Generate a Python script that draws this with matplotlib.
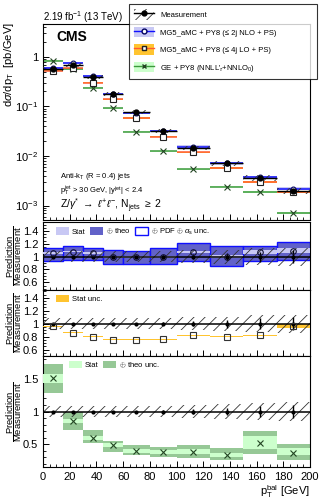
import numpy as np
import matplotlib.pyplot as plt
from matplotlib.patches import Patch
from matplotlib.lines import Line2D
from matplotlib.ticker import MultipleLocator, FixedLocator, FixedFormatter, NullFormatter

plt.rcParams['font.family'] = ['Liberation Sans', 'DejaVu Sans']
plt.rcParams['mathtext.fontset'] = 'custom'
plt.rcParams['mathtext.rm'] = 'Liberation Sans'
plt.rcParams['mathtext.it'] = 'Liberation Sans:italic'
plt.rcParams['mathtext.bf'] = 'Liberation Sans:bold'
plt.rcParams['hatch.linewidth'] = 0.6
plt.rcParams['xtick.direction'] = 'in'
plt.rcParams['ytick.direction'] = 'in'

# bins of pT^bal [GeV]
edges = [0, 15, 30, 45, 60, 80, 100, 125, 150, 175, 200]

# measurement [pb/GeV] and relative uncertainties
meas = [0.56, 0.69, 0.39, 0.18, 0.076, 0.032, 0.0144, 0.0071, 0.0036, 0.0020]
meas_stat = [0.005, 0.005, 0.008, 0.01, 0.015, 0.02, 0.04, 0.06, 0.08, 0.10]
meas_tot = [0.09, 0.09, 0.09, 0.09, 0.09, 0.09, 0.10, 0.11, 0.13, 0.14]

# predictions [pb/GeV]
nlo = [0.59, 0.75, 0.41, 0.18, 0.075, 0.032, 0.0154, 0.0071, 0.0038, 0.0022]
lo = [0.53, 0.59, 0.30, 0.14, 0.058, 0.0245, 0.0118, 0.0057, 0.0030, 0.0019]
ge = [0.84, 0.57, 0.24, 0.091, 0.031, 0.0123, 0.0054, 0.0024, 0.0019, 0.0007]
nlo_band = [0.04, 0.04, 0.04, 0.05, 0.05, 0.05, 0.06, 0.06, 0.06, 0.06]
lo_band = [0.03, 0.03, 0.03, 0.03, 0.03, 0.03, 0.03, 0.03, 0.03, 0.04]
ge_band = [0.03, 0.03, 0.03, 0.03, 0.03, 0.03, 0.03, 0.03, 0.04, 0.05]

# ratio prediction / measurement
nlo_ratio = [1.06, 1.08, 1.06, 1.00, 0.99, 0.99, 1.07, 1.00, 1.07, 1.09]
nlo_theo_lo = [0.93, 0.95, 0.95, 0.89, 0.88, 0.88, 0.93, 0.85, 0.93, 0.95]
nlo_theo_hi = [1.13, 1.16, 1.13, 1.10, 1.09, 1.13, 1.21, 1.16, 1.16, 1.23]
nlo_stat = [0.015, 0.015, 0.015, 0.015, 0.015, 0.015, 0.02, 0.02, 0.03, 0.04]

lo_ratio = [0.96, 0.86, 0.80, 0.755, 0.755, 0.76, 0.82, 0.80, 0.82, 0.97]
lo_stat = [0.01, 0.008, 0.008, 0.008, 0.008, 0.008, 0.01, 0.01, 0.01, 0.03]

ge_ratio = [1.51, 0.86, 0.60, 0.48, 0.40, 0.38, 0.38, 0.34, 0.52, 0.36]
ge_theo_lo = [1.29, 0.72, 0.51, 0.38, 0.33, 0.30, 0.29, 0.25, 0.35, 0.25]
ge_theo_hi = [1.72, 1.00, 0.71, 0.55, 0.48, 0.46, 0.48, 0.44, 0.70, 0.50]
ge_stat_lo = [1.43, 0.83, 0.57, 0.45, 0.37, 0.35, 0.35, 0.31, 0.42, 0.33]
ge_stat_hi = [1.57, 0.89, 0.63, 0.51, 0.43, 0.41, 0.42, 0.37, 0.62, 0.44]

# colours
c_nlo_line = '#1010ff'
c_nlo_light = '#c8c8f4'
c_nlo_dark = '#6262c8'
c_lo_line = '#ff5a30'
c_lo_band = '#ffc430'
c_ge_line = '#3c9a3c'
c_ge_light = '#ccffcc'
c_ge_dark = '#96c896'
c_hatch = '#333333'

edges = np.array(edges)
left = edges[:-1]
width = np.diff(edges)
centers = left + width / 2
meas = np.array(meas)
meas_stat = np.array(meas_stat)
meas_tot = np.array(meas_tot)

W, H = 332, 504
fig = plt.figure(figsize=(W / 100, H / 100), dpi=100)


def box(top, bottom):
    return [43 / W, 1 - bottom / H, 267 / W, (bottom - top) / H]


ax = fig.add_axes(box(24, 220))
ax2 = fig.add_axes(box(222, 290))
ax3 = fig.add_axes(box(290, 356))
ax4 = fig.add_axes(box(356, 467))

# ---- main panel
ax.set_yscale('log')
for vals, band, col_b, col_l in [(ge, ge_band, c_ge_light, c_ge_line),
                                 (lo, lo_band, c_lo_band, c_lo_line),
                                 (nlo, nlo_band, c_nlo_light, c_nlo_line)]:
    vals = np.array(vals)
    band = np.array(band)
    ax.bar(left, vals * 2 * band, bottom=vals * (1 - band), width=width,
           align='edge', color=col_b, lw=0, zorder=1)
    ax.hlines(vals, edges[:-1], edges[1:], color=col_l, lw=1.1, zorder=2)

ax.plot(centers, ge, 'x', color='#224422', ms=4, mew=0.8, zorder=3)
ax.plot(centers, lo, 's', mfc='white', mec='#222222', ms=4, mew=0.8, zorder=3)
ax.plot(centers, nlo, 'o', mfc='white', mec='#000060', ms=3.5, mew=0.8, zorder=3)

ax.bar(left, meas * 2 * meas_tot, bottom=meas * (1 - meas_tot), width=width,
       align='edge', fill=False, hatch='///', edgecolor=c_hatch, lw=0, zorder=4)
ax.errorbar(centers, meas, xerr=width / 2, yerr=meas * meas_stat, fmt='o',
            color='black', ms=3.5, lw=1, capsize=0, zorder=5)

ax.set_ylim(5.1e-4, 4.6)
ax.yaxis.set_major_locator(FixedLocator([1e-3, 1e-2, 1e-1, 1]))
ax.yaxis.set_major_formatter(FixedFormatter(['$10^{-3}$', '$10^{-2}$', '$10^{-1}$', '1']))
ax.yaxis.set_minor_formatter(NullFormatter())
ax.set_ylabel(r'd$\sigma$/dp$_\mathrm{T}$  [pb/GeV]', fontsize=8, loc='top')
ax.yaxis.set_label_coords(-0.1, 1.01)

fig.text(43 / W, 1 - 17 / H, '2.19 fb$^{-1}$ (13 TeV)', fontsize=7, va='center')
fig.text(56 / W, 1 - 37 / H, 'CMS', fontsize=10, fontweight='bold', va='center')
fig.text(60 / W, 1 - 176 / H, r'Anti-k$_\mathrm{T}$ (R = 0.4) jets', fontsize=5.5, va='center')
fig.text(60 / W, 1 - 191 / H, r'p$_\mathrm{T}^\mathrm{jet}$ > 30 GeV, |y$^\mathrm{jet}$| < 2.4',
         fontsize=5.5, va='center')
fig.text(60 / W, 1 - 206 / H,
         r'Z/$\gamma^{*}$ $\rightarrow$ $\ell^{+}\ell^{-}$, N$_\mathrm{jets}$ $\geq$ 2',
         fontsize=7.5, va='center')

handles = [
    (Patch(facecolor='white', edgecolor=c_hatch, hatch='///', lw=0),
     Line2D([], [], color='black', marker='o', ms=3.5, lw=1)),
    (Patch(facecolor=c_nlo_light, lw=0),
     Line2D([], [], color=c_nlo_line, marker='o', mfc='white', mec='#000060', ms=3.5, lw=1)),
    (Patch(facecolor=c_lo_band, lw=0),
     Line2D([], [], color=c_lo_line, marker='s', mfc='white', mec='#222222', ms=3.5, lw=1)),
    (Patch(facecolor=c_ge_light, lw=0),
     Line2D([], [], color=c_ge_line, marker='x', mec='#224422', ms=3.5, lw=1)),
]
labels = ['Measurement',
          'MG5_aMC + PY8 (≤ 2j NLO + PS)',
          'MG5_aMC + PY8 (≤ 4j LO + PS)',
          r"GE + PY8 (NNLL'$_\tau$+NNLO$_0$)"]
leg = fig.legend(handles, labels, loc='upper left',
                 bbox_to_anchor=(129 / W, 1 - 82 / H, 188 / W, 78 / H), mode='expand',
                 borderaxespad=0, fontsize=5.5, handlelength=2.6, handleheight=1.7,
                 labelspacing=0.95, handletextpad=0.8, borderpad=0.7,
                 frameon=True, fancybox=False, edgecolor='black')
leg.get_frame().set_linewidth(0.8)

# ---- ratio panels: measurement band around one
for a in [ax2, ax3, ax4]:
    a.bar(left, 2 * meas_tot, bottom=1 - meas_tot, width=width, align='edge',
          fill=False, hatch='///', edgecolor=c_hatch, lw=0, zorder=4)
    a.axhline(1, color='black', lw=1.1, zorder=5)
    a.errorbar(centers, np.ones(10), yerr=meas_stat, fmt='o', color='black',
               ms=2, lw=1, capsize=0, zorder=6)

# NLO
ax2.bar(left, np.array(nlo_theo_hi) - np.array(nlo_theo_lo), bottom=nlo_theo_lo,
        width=width, align='edge', facecolor=c_nlo_dark, edgecolor=c_nlo_line,
        lw=1, zorder=2)
ax2.bar(left, 2 * np.array(nlo_stat), bottom=np.array(nlo_ratio) - np.array(nlo_stat),
        width=width, align='edge', color=c_nlo_light, lw=0, zorder=3)
ax2.plot(centers, nlo_ratio, 'o', mfc='none', mec='#111133', ms=4, mew=0.8, zorder=7)
ax2.legend([Patch(facecolor=c_nlo_light, lw=0), Patch(facecolor=c_nlo_dark, lw=0),
            Patch(facecolor='white', edgecolor=c_nlo_line, lw=1)],
           ['Stat', r'$\oplus$ theo', r'$\oplus$ PDF $\oplus$ $\alpha_\mathrm{s}$ unc.'],
           loc='upper left', ncol=3, frameon=False, fontsize=5.5,
           handlelength=1.7, handleheight=1.1, columnspacing=0.6, handletextpad=0.4,
           borderaxespad=0.2, bbox_to_anchor=(0.03, 1.0))
ax2.set_ylim(0.48, 1.54)

# LO
ax3.bar(left, 2 * np.array(lo_stat), bottom=np.array(lo_ratio) - np.array(lo_stat),
        width=width, align='edge', color=c_lo_band, lw=0, zorder=3)
ax3.plot(centers, lo_ratio, 's', mfc='none', mec='#333333', ms=4, mew=0.8, zorder=7)
ax3.legend([Patch(facecolor=c_lo_band, lw=0)], ['Stat unc.'], loc='upper left',
           frameon=False, fontsize=5.5, handlelength=1.7, handleheight=1.1,
           handletextpad=0.4, borderaxespad=0.2, bbox_to_anchor=(0.03, 1.0))
ax3.set_ylim(0.5, 1.52)

# GE
ax4.bar(left, np.array(ge_theo_hi) - np.array(ge_theo_lo), bottom=ge_theo_lo,
        width=width, align='edge', color=c_ge_dark, lw=0, zorder=2)
ax4.bar(left, np.array(ge_stat_hi) - np.array(ge_stat_lo), bottom=ge_stat_lo,
        width=width, align='edge', color=c_ge_light, lw=0, zorder=3)
ax4.plot(centers, ge_ratio, 'x', color='#224422', ms=4, mew=0.8, zorder=7)
ax4.legend([Patch(facecolor=c_ge_light, lw=0), Patch(facecolor=c_ge_dark, lw=0)],
           ['Stat', r'$\oplus$ theo unc.'], loc='upper left', ncol=2, frameon=False,
           fontsize=5.5, handlelength=1.7, handleheight=1.1, columnspacing=0.5,
           handletextpad=0.4, borderaxespad=0.2, bbox_to_anchor=(0.08, 1.0))
ax4.set_ylim(0.15, 1.85)

ratio_label = r'$\dfrac{\mathrm{Prediction}}{\mathrm{Measurement}}$'
for a in [ax2, ax3]:
    a.yaxis.set_major_locator(FixedLocator([0.6, 0.8, 1.0, 1.2, 1.4]))
    a.yaxis.set_major_formatter(FixedFormatter(['0.6', '0.8', '1', '1.2', '1.4']))
    a.yaxis.set_minor_locator(MultipleLocator(0.05))
ax4.yaxis.set_major_locator(FixedLocator([0.5, 1.0, 1.5]))
ax4.yaxis.set_major_formatter(FixedFormatter(['0.5', '1', '1.5']))
ax4.yaxis.set_minor_locator(MultipleLocator(0.1))
for a in [ax2, ax3, ax4]:
    a.set_ylabel(ratio_label, fontsize=6.8)
    a.yaxis.set_label_coords(-0.072, 0.5)

for a in [ax, ax2, ax3, ax4]:
    a.set_xlim(0, 200)
    a.xaxis.set_major_locator(MultipleLocator(20))
    a.xaxis.set_minor_locator(MultipleLocator(5))
    a.tick_params(which='major', length=4, width=0.7, labelsize=8, top=False, right=False)
    a.tick_params(which='minor', length=2, width=0.6, top=False, right=False)
    for s in a.spines.values():
        s.set_linewidth(0.8)
    if a is not ax4:
        a.tick_params(labelbottom=False)

ax4.set_xlabel(r'p$_\mathrm{T}^\mathrm{bal}$ [GeV]', fontsize=8, loc='right', labelpad=1)

fig.savefig('out.png', dpi=100)
